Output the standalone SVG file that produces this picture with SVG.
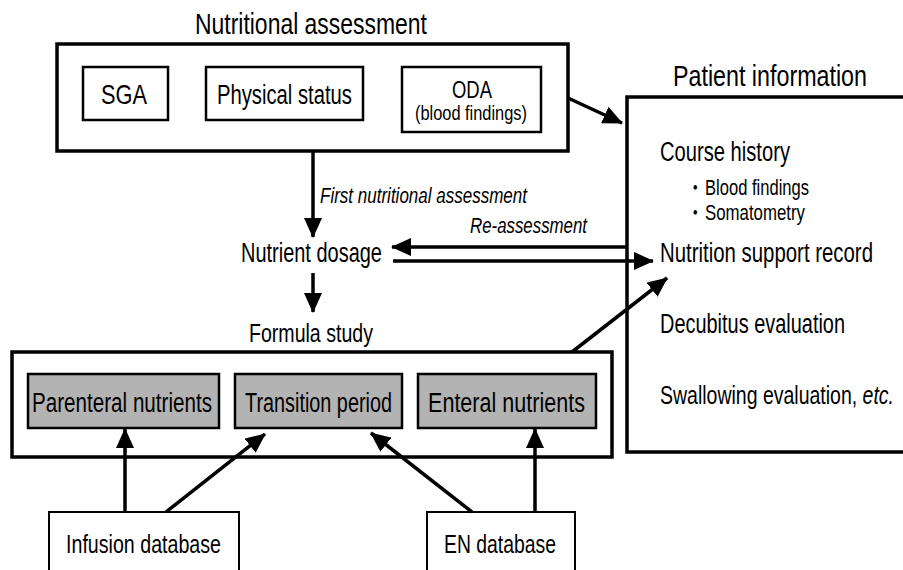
<svg xmlns="http://www.w3.org/2000/svg" width="903" height="570" viewBox="0 0 903 570">
<style>
text{font-family:"Liberation Sans",Arimo,"Noto Sans CJK JP",sans-serif;fill:#000;}
.c{transform:scale(0.75,1);}
.it{font-style:italic;}
.outer{fill:#fff;stroke:#000;stroke-width:3.5;}
.inner{fill:#fff;stroke:#000;stroke-width:2.5;}
.gray{fill:#b3b3b3;stroke:#000;stroke-width:2.5;}
.db{fill:#fff;stroke:#000;stroke-width:2;}
.conn line{stroke:#000;stroke-width:3.5;fill:none;marker-end:url(#ah);}
</style>
<defs>
<marker id="ah" viewBox="0 0 20 18" refX="19" refY="9" markerWidth="20" markerHeight="18" markerUnits="userSpaceOnUse" orient="auto">
<path d="M0,0 L20,9 L0,18 Z" fill="#000"/>
</marker>
</defs>
<rect width="903" height="570" fill="#fff"/>

<g id="nutritional-assessment">
<text class="c" font-size="30" x="260" y="34" textLength="309.3" lengthAdjust="spacingAndGlyphs">Nutritional assessment</text>
<rect class="outer" x="57" y="44" width="511" height="107"/>
</g>
<g id="sga">
<rect class="inner" x="83" y="67" width="85" height="53"/>
<text class="c" font-size="28" x="134.7" y="104" textLength="61.3" lengthAdjust="spacingAndGlyphs">SGA</text>
</g>
<g id="physical-status">
<rect class="inner" x="206" y="67" width="157" height="53"/>
<text class="c" font-size="27" x="289.3" y="104" textLength="180" lengthAdjust="spacingAndGlyphs">Physical status</text>
</g>
<g id="oda">
<rect class="inner" x="402" y="67" width="139" height="65"/>
<text class="c" font-size="23" x="602.7" y="98.5" textLength="53.3" lengthAdjust="spacingAndGlyphs">ODA</text>
<text class="c" font-size="19.5" x="553.3" y="120" textLength="149.3" lengthAdjust="spacingAndGlyphs">(blood findings)</text>
</g>

<g id="patient-information">
<text class="c" font-size="30" x="897.3" y="86" textLength="258.7" lengthAdjust="spacingAndGlyphs">Patient information</text>
<rect class="outer" x="627" y="97" width="300" height="355"/>
<text class="c" font-size="27" x="880" y="161" textLength="173.3" lengthAdjust="spacingAndGlyphs">Course history</text>
<text class="c" font-size="22" y="195"><tspan x="916">・</tspan><tspan x="940" textLength="138.7" lengthAdjust="spacingAndGlyphs">Blood findings</tspan></text>
<text class="c" font-size="22" y="220"><tspan x="916">・</tspan><tspan x="940" textLength="133.3" lengthAdjust="spacingAndGlyphs">Somatometry</tspan></text>
<text class="c" font-size="27" x="880" y="262" textLength="284" lengthAdjust="spacingAndGlyphs">Nutrition support record</text>
<text class="c" font-size="27" x="880" y="333" textLength="246.7" lengthAdjust="spacingAndGlyphs">Decubitus evaluation</text>
<text class="c" font-size="26" x="880" y="404">Swallowing evaluation, <tspan class="it">etc.</tspan></text>
</g>

<g id="nutrient-dosage">
<text class="c" font-size="27" x="321.3" y="262" textLength="188" lengthAdjust="spacingAndGlyphs">Nutrient dosage</text>
</g>

<g id="formula-study">
<text class="c" font-size="26" x="332" y="342" textLength="165.3" lengthAdjust="spacingAndGlyphs">Formula study</text>
<rect class="outer" x="12" y="352" width="600" height="105"/>
</g>
<g id="parenteral-nutrients">
<rect class="gray" x="28" y="374" width="191" height="54"/>
<text class="c" font-size="27" x="42.7" y="412" textLength="240" lengthAdjust="spacingAndGlyphs">Parenteral nutrients</text>
</g>
<g id="transition-period">
<rect class="gray" x="235" y="374" width="167" height="54"/>
<text class="c" font-size="27" x="326.7" y="412" textLength="196" lengthAdjust="spacingAndGlyphs">Transition period</text>
</g>
<g id="enteral-nutrients">
<rect class="gray" x="418" y="374" width="178" height="54"/>
<text class="c" font-size="27" x="570.7" y="412" textLength="209.3" lengthAdjust="spacingAndGlyphs">Enteral nutrients</text>
</g>

<g id="infusion-database">
<rect class="db" x="49" y="512" width="190" height="70"/>
<text class="c" font-size="26" x="88" y="553" textLength="206.7" lengthAdjust="spacingAndGlyphs">Infusion database</text>
</g>
<g id="en-database">
<rect class="db" x="427" y="512" width="148" height="70"/>
<text class="c" font-size="26" x="592" y="553" textLength="149.3" lengthAdjust="spacingAndGlyphs">EN database</text>
</g>

<g id="connectors" class="conn">
<line x1="313" y1="152" x2="313" y2="237"/>
<line x1="313" y1="273" x2="313" y2="312"/>
<line x1="627" y1="247" x2="392" y2="247"/>
<line x1="393" y1="261" x2="653" y2="261"/>
<line x1="568" y1="98" x2="622" y2="123"/>
<line x1="572" y1="352" x2="667" y2="278"/>
<line x1="125" y1="512" x2="125" y2="429"/>
<line x1="166" y1="512" x2="265" y2="434"/>
<line x1="472" y1="512" x2="371" y2="433"/>
<line x1="535" y1="512" x2="535" y2="429"/>
</g>
<g id="connector-labels">
<text class="c it" font-size="22.5" x="426.7" y="203" textLength="276" lengthAdjust="spacingAndGlyphs">First nutritional assessment</text>
<text class="c it" font-size="22.5" x="626.7" y="233" textLength="156" lengthAdjust="spacingAndGlyphs">Re-assessment</text>
</g>
</svg>
